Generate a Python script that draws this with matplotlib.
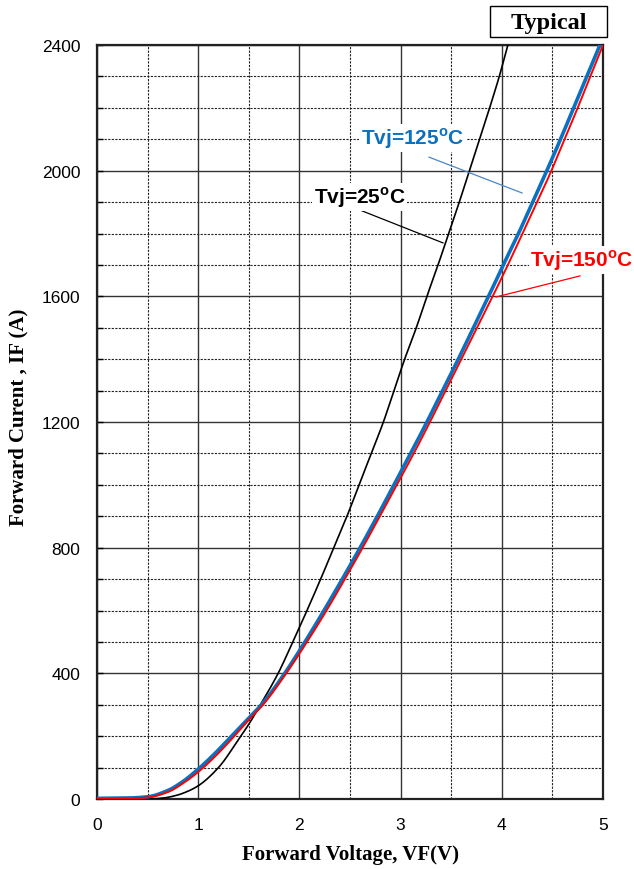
import numpy as np
import matplotlib
matplotlib.use("Agg")
import matplotlib.pyplot as plt
from matplotlib.patches import Rectangle
from matplotlib.ticker import MultipleLocator

plt.rcParams["font.family"] = ["Liberation Sans", "DejaVu Sans"]
plt.rcParams["mathtext.fontset"] = "custom"
plt.rcParams["mathtext.rm"] = "Liberation Sans:bold"
plt.rcParams["mathtext.bf"] = "Liberation Sans:bold"

# Forward characteristics, IF vs VF
v_25 = [0.0, 0.5, 0.65, 0.8, 0.9, 1.0, 1.2, 1.41, 1.5, 1.615, 1.79, 1.935, 2.075, 2.21, 2.34,
        2.47, 2.59, 2.71, 2.83, 2.935, 3.04, 3.155, 3.26, 3.37, 3.475, 3.58, 3.68, 3.78,
        3.88, 3.975, 4.06]
i_25 = [0, 0, 3, 13, 25, 42, 100, 195, 238, 300, 400, 500, 600, 700, 800,
        900, 1000, 1100, 1200, 1300, 1400, 1500, 1600, 1700, 1800, 1900, 2000, 2100,
        2200, 2300, 2400]

v_125 = [0.0, 0.3, 0.5, 0.7, 0.85, 1.0, 1.15, 1.3, 1.5, 1.63, 1.855, 2.055, 2.243, 2.424,
         2.60, 2.77, 2.935, 3.10, 3.26, 3.415, 3.57, 3.72, 3.87, 4.015, 4.165, 4.305,
         4.445, 4.58, 4.71, 4.84, 4.97]
i_125 = [2, 3, 7, 27, 56, 95, 140, 190, 258, 302, 400, 500, 600, 700,
         800, 900, 1000, 1100, 1200, 1300, 1400, 1500, 1600, 1700, 1800, 1900,
         2000, 2100, 2200, 2300, 2400]

v_150 = [0.0, 0.3, 0.5, 0.7, 0.85, 1.0, 1.15, 1.3, 1.5, 1.64, 1.87, 2.075, 2.268, 2.449,
         2.625, 2.795, 2.963, 3.13, 3.29, 3.445, 3.60, 3.755, 3.91, 4.06, 4.205, 4.35,
         4.49, 4.62, 4.75, 4.875, 5.0]
i_150 = [0, 1, 5, 22, 50, 86, 130, 180, 252, 300, 400, 500, 600, 700,
         800, 900, 1000, 1100, 1200, 1300, 1400, 1500, 1600, 1700, 1800, 1900,
         2000, 2100, 2200, 2300, 2400]

x_ticks = [0, 1, 2, 3, 4, 5]
y_ticks = [0, 400, 800, 1200, 1600, 2000, 2400]

BLUE = "#0a70c0"
RED = "#ff0000"


def pchip(x, y, n=500):
    """Monotone cubic (Fritsch-Carlson) curve through the given points."""
    x = np.asarray(x, float)
    y = np.asarray(y, float)
    h = np.diff(x)
    d = np.diff(y) / h
    m = np.zeros_like(y)
    for k in range(1, len(x) - 1):
        if d[k - 1] * d[k] > 0:
            w1 = 2 * h[k] + h[k - 1]
            w2 = h[k] + 2 * h[k - 1]
            m[k] = (w1 + w2) / (w1 / d[k - 1] + w2 / d[k])
    m[0] = d[0]
    m[-1] = d[-1]
    xs = np.linspace(x[0], x[-1], n)
    idx = np.clip(np.searchsorted(x, xs) - 1, 0, len(h) - 1)
    t = (xs - x[idx]) / h[idx]
    h00 = 2 * t**3 - 3 * t**2 + 1
    h10 = t**3 - 2 * t**2 + t
    h01 = -2 * t**3 + 3 * t**2
    h11 = t**3 - t**2
    ys = (h00 * y[idx] + h10 * h[idx] * m[idx]
          + h01 * y[idx + 1] + h11 * h[idx] * m[idx + 1])
    return xs, ys


fig = plt.figure(figsize=(6.34, 8.70), dpi=100)
ax = fig.add_axes([97 / 634, 1 - 800 / 870, 506 / 634, 754 / 870])

ax.set_xlim(0, 5)
ax.set_ylim(0, 2400)
ax.set_xticks(x_ticks)
ax.set_yticks(y_ticks)
ax.xaxis.set_minor_locator(MultipleLocator(0.5))
ax.yaxis.set_minor_locator(MultipleLocator(100))

ax.grid(which="major", color="#333333", linewidth=1.0, linestyle="-")
ax.grid(which="minor", color="#222222", linewidth=0.8, linestyle=(0, (2.0, 1.2)))
ax.set_axisbelow(True)

ax.tick_params(axis="x", which="both", length=0, pad=13, labelsize=12.5)
ax.tick_params(axis="y", which="major", direction="in", length=4, width=1, pad=12, labelsize=12.5)
ax.tick_params(axis="y", which="minor", direction="in", length=4, width=1)

for sp in ax.spines.values():
    sp.set_linewidth(1.6)
    sp.set_color("#222222")

ax.plot(*pchip(v_25, i_25), color="black", linewidth=1.2, zorder=3)
ax.plot(*pchip(v_125, i_125), color=BLUE, linewidth=2.6, zorder=4)
ax.plot(*pchip(v_150, i_150), color=RED, linewidth=1.4, zorder=5)

label_kw = dict(fontsize=15, fontweight="bold", ha="center", va="center", zorder=6,
                bbox=dict(facecolor="white", edgecolor="none", pad=1.0))

# Temperature labels with leader lines
ax.plot([3.281, 4.200], [2043, 1929], color="#4a86c8", linewidth=0.9, zorder=6)
ax.text(3.118, 2104, r"Tvj=125$^{\rm o}$C", color=BLUE, **label_kw)

ax.plot([2.619, 3.419], [1872, 1770], color="black", linewidth=0.9, zorder=6)
ax.text(2.594, 1916, r"Tvj=25$^{\rm o}$C", color="black", **label_kw)

ax.plot([4.773, 3.943], [1665, 1598], color=RED, linewidth=0.9, zorder=6, clip_on=False)
ax.text(4.793, 1716, r"Tvj=150$^{\rm o}$C", color=RED, clip_on=False, **label_kw)

serif = ["Liberation Serif", "DejaVu Serif"]
fig.text(350 / 634, 1 - 855 / 870, "Forward Voltage, VF(V)", fontsize=15,
         fontweight="bold", family=serif, ha="center", va="center")
fig.text(18 / 634, 1 - 417 / 870, "Forward Curent , IF (A)", fontsize=15,
         fontweight="bold", family=serif, ha="center", va="center", rotation=90)

# "Typical" box above the plot
fig.patches.append(Rectangle((490 / 634, 1 - 38 / 870), 117 / 634, 31 / 870,
                             transform=fig.transFigure, facecolor="white",
                             edgecolor="black", linewidth=1.0))
fig.text(548.5 / 634, 1 - 23 / 870, "Typical", fontsize=17.5, fontweight="bold",
         family=serif, ha="center", va="center")

fig.savefig("out.png", dpi=100)
